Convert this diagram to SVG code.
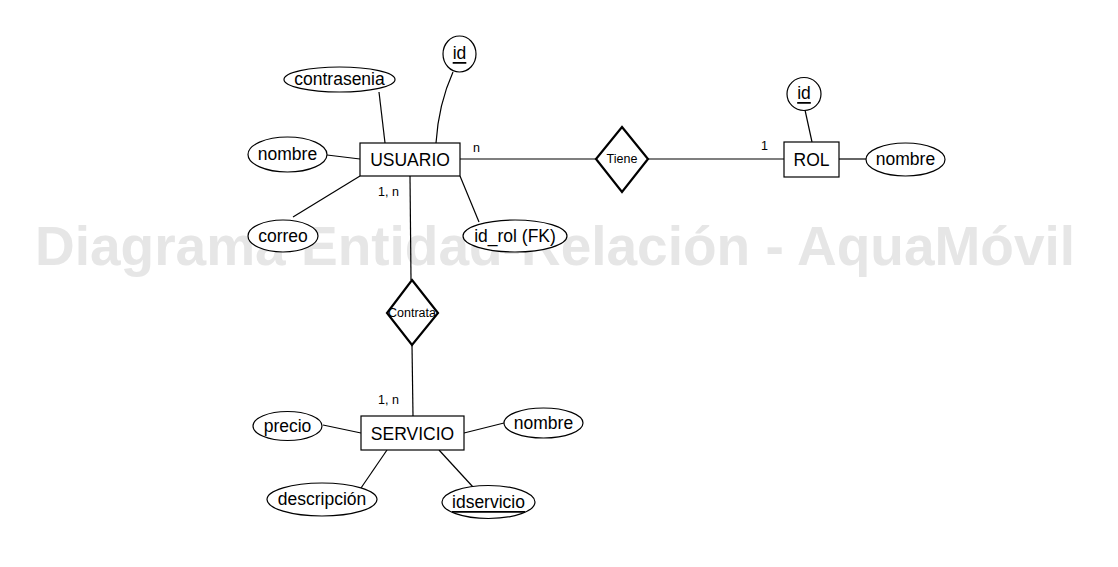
<svg xmlns="http://www.w3.org/2000/svg" width="1118" height="567" viewBox="0 0 1118 567">
<style>
.wm{font-family:"Liberation Sans",Arial,sans-serif;font-weight:bold;font-size:55px;fill:#e6e6e6}
.ent{fill:#fff;stroke:#000;stroke-width:1.2}
.att{fill:#fff;stroke:#000;stroke-width:1.2}
.rel{fill:#fff;stroke:#000;stroke-width:2.2}
.t{font-family:"Liberation Sans",Arial,sans-serif;font-size:17.5px;fill:#000;text-anchor:middle;dominant-baseline:central}
.ts{font-family:"Liberation Sans",Arial,sans-serif;font-size:12.5px;fill:#000;text-anchor:middle;dominant-baseline:central}
.lb{font-family:"Liberation Sans",Arial,sans-serif;font-size:12.5px;fill:#000}
.u{text-decoration:underline}
.c{fill:none;stroke:#000;stroke-width:1.2}
</style>
<rect width="1118" height="567" fill="#fff"/>
<text class="wm" x="35" y="265">Diagrama Entidad-Relación - AquaMóvil</text>
<g id="connectors">
<path class="c" d="M453,72 C444,92 438,112 436,143"/>
<line class="c" x1="379" y1="92" x2="385" y2="143"/>
<line class="c" x1="327" y1="155" x2="360" y2="159"/>
<line class="c" x1="360" y1="176" x2="293" y2="217"/>
<line class="c" x1="460" y1="176" x2="479" y2="222"/>
<line class="c" x1="460" y1="159" x2="596" y2="159"/>
<line class="c" x1="648" y1="159" x2="784" y2="159"/>
<line class="c" x1="805" y1="110" x2="812" y2="142"/>
<line class="c" x1="839" y1="159" x2="866" y2="159"/>
<line class="c" x1="410" y1="176" x2="411" y2="280"/>
<line class="c" x1="412" y1="345" x2="413" y2="416"/>
<line class="c" x1="323" y1="425" x2="361" y2="433"/>
<line class="c" x1="464" y1="433" x2="504" y2="423"/>
<line class="c" x1="387" y1="450" x2="361" y2="488"/>
<line class="c" x1="439" y1="450" x2="473" y2="487"/>
</g>
<g id="usuario">
<rect class="ent" x="360" y="143" width="100" height="33"/>
<text class="t" x="410" y="160">USUARIO</text>
</g>
<g id="usuario-id">
<ellipse class="att" cx="459.5" cy="54" rx="16.5" ry="18"/>
<text class="t u" x="459.5" y="53">id</text>
</g>
<g id="usuario-contrasenia">
<ellipse class="att" cx="339.5" cy="79.5" rx="55.5" ry="12.5"/>
<text class="t" x="339.5" y="79">contrasenia</text>
</g>
<g id="usuario-nombre">
<ellipse class="att" cx="287.5" cy="154.5" rx="39.5" ry="17.5"/>
<text class="t" x="287.5" y="154">nombre</text>
</g>
<g id="usuario-correo">
<ellipse class="att" cx="283" cy="236" rx="35" ry="16"/>
<text class="t" x="283" y="236">correo</text>
</g>
<g id="usuario-idrol">
<ellipse class="att" cx="515" cy="236" rx="52" ry="16"/>
<text class="t" x="515" y="236">id_rol (FK)</text>
</g>
<g id="tiene">
<polygon class="rel" points="622,127 648,159 622,192 596,159"/>
<text class="ts" x="622" y="159">Tiene</text>
</g>
<g id="rol">
<rect class="ent" x="784" y="142" width="55" height="35"/>
<text class="t" x="811.5" y="160">ROL</text>
</g>
<g id="rol-id">
<ellipse class="att" cx="804" cy="94" rx="17" ry="16.5"/>
<text class="t u" x="804" y="93">id</text>
</g>
<g id="rol-nombre">
<ellipse class="att" cx="905.5" cy="159.5" rx="39.5" ry="16.5"/>
<text class="t" x="905.5" y="159">nombre</text>
</g>
<g id="contrata">
<polygon class="rel" points="412,280 438,313 412,345 387,313"/>
<text class="ts" x="412" y="313">Contrata</text>
</g>
<g id="servicio">
<rect class="ent" x="361" y="416" width="103" height="34"/>
<text class="t" x="412.5" y="433.5">SERVICIO</text>
</g>
<g id="servicio-precio">
<ellipse class="att" cx="287.5" cy="426" rx="34.5" ry="14.5"/>
<text class="t" x="287.5" y="425.5">precio</text>
</g>
<g id="servicio-nombre">
<ellipse class="att" cx="543.5" cy="423" rx="39.5" ry="15"/>
<text class="t" x="543.5" y="423">nombre</text>
</g>
<g id="servicio-descripcion">
<ellipse class="att" cx="322" cy="499.5" rx="55" ry="16.5"/>
<text class="t" x="322" y="499">descripción</text>
</g>
<g id="servicio-idservicio">
<ellipse class="att" cx="488.5" cy="502" rx="46.5" ry="16.5"/>
<text class="t u" x="488.5" y="502">idservicio</text>
</g>
<g id="labels">
<text class="lb" x="473" y="152">n</text>
<text class="lb" x="378" y="196">1, n</text>
<text class="lb" x="761" y="150">1</text>
<text class="lb" x="378" y="404">1, n</text>
</g>
</svg>
